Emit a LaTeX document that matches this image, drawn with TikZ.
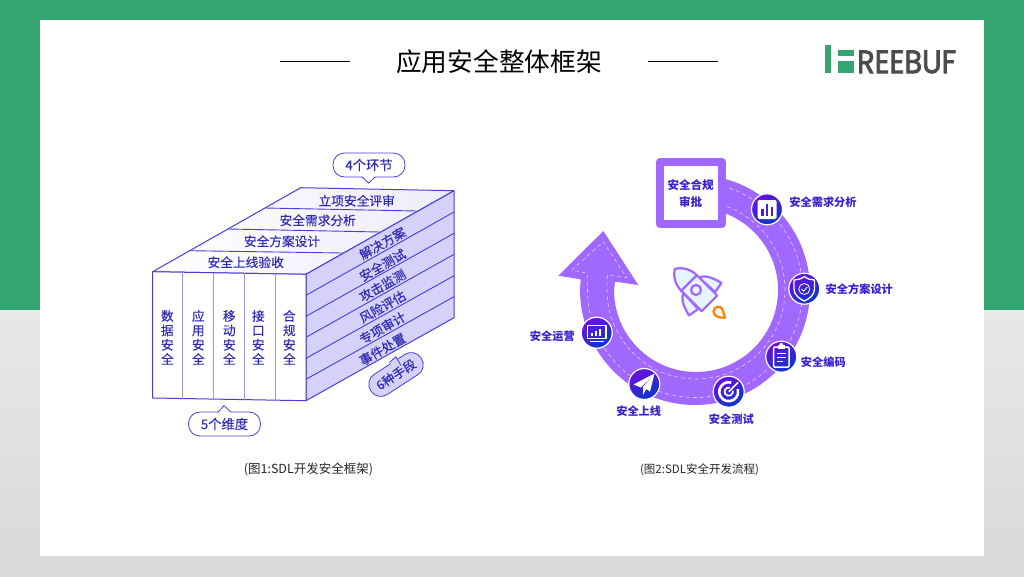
\documentclass[tikz,border=0pt]{standalone}
\usepackage{fontspec}
\usepackage{graphicx}
\setmainfont{Noto Sans CJK SC}
\newfontfamily\logofont[FakeBold=2.5]{Poppins}
\newfontfamily\boxfont[FakeBold=0.2]{Noto Sans CJK SC}
\usetikzlibrary{calc}
\definecolor{grn}{HTML}{34A56F}
\definecolor{boxline}{HTML}{4A3DD6}
\definecolor{boxtext}{HTML}{2F2CB4}
\definecolor{sidefill}{HTML}{D6D1F9}
\definecolor{purp}{HTML}{A068FF}
\definecolor{lab}{HTML}{3A1FD0}
\definecolor{nosefill}{HTML}{E6F4FD}
\definecolor{icopurple}{HTML}{6A10E0}
\definecolor{icoblue}{HTML}{0A38C8}
\tikzset{
  boxface/.style={draw=boxline,line width=1pt,line join=round},
  boxdiv/.style={draw=boxline!55,line width=1.1pt},
  sideline/.style={draw=boxline,line width=0.9pt},
  toptext/.style={font=\boxfont\fontsize{12.7}{14}\selectfont,text=boxtext,inner sep=0pt},
  sidetext/.style={font=\boxfont\fontsize{12.7}{14}\selectfont,text=boxtext,inner sep=0pt,rotate=29.5},
  fronttext/.style={font=\boxfont\fontsize{12.7}{14.4}\selectfont,text=boxtext,inner sep=0pt,align=center},
  bubble/.style={draw=boxline,line width=0.8pt,rounded corners=11.5pt,minimum width=72pt,minimum height=24pt,inner sep=0pt,font=\boxfont\fontsize{13.3}{14}\selectfont,text=boxtext},
  ico/.style={circle,minimum size=31pt,inner sep=0pt,draw=white,line width=1.2pt,top color=icopurple,bottom color=icoblue,shading angle=30},
  steplabel/.style={font=\fontsize{11.2}{13}\selectfont\bfseries,text=lab,inner sep=0pt},
  dashline/.style={draw=white,draw opacity=.65,line width=0.6pt,dash pattern=on 4pt off 3pt},
  icoline/.style={draw=white,line width=1.1pt,line join=round},
  rocket/.style={draw=purp,line width=2.2pt,fill=nosefill,line join=round},
  caption/.style={inner sep=0pt,text=black!85}
}
\begin{document}
\begin{tikzpicture}[x=1pt,y=1pt]
\useasboundingbox (0,-576) rectangle (1024,0);
% background
\fill[grn] (0,0) rectangle (1024,-310);
\shade[top color=black!9,bottom color=black!15] (0,-310) rectangle (1024,-576);
\fill[white] (40,-20) rectangle (984,-556);
% title
\node[inner sep=0pt,font=\fontsize{25.7}{28}\selectfont] (title) at (499,-62) {应用安全整体框架};
\coordinate (tl1) at (280,-61); \coordinate (tl2) at (350,-61);
\coordinate (tr1) at (648,-61); \coordinate (tr2) at (718,-61);
\draw[line width=0.8pt] (tl1) -- (tl2);
\draw[line width=0.8pt] (tr1) -- (tr2);
% logo
\fill[grn] (825.3,-45) rectangle (830.7,-73);
\fill[grn] (838,-50) rectangle (854,-55.7);
\fill[grn] (838,-61) rectangle (854,-73.3);
\node[inner sep=0pt,anchor=west,text=black!70] (logo) at (857,-62) {\resizebox{99pt}{22.6pt}{\logofont REEBUF}};
% box faces
\coordinate (ftl) at (152.7,-271.7); \coordinate (ftr) at (306,-274.3);
\coordinate (fbl) at (152.7,-398); \coordinate (fbr) at (306,-400.7);
\coordinate (btl) at (300.7,-187.7); \coordinate (btr) at (454,-190.7);
\coordinate (bbr) at (454,-317.7);
\path[boxface,left color=white,right color=boxline!10] (ftl) -- (btl) -- (btr) -- (ftr) -- cycle;
\path[boxface,fill=sidefill] (ftr) -- (btr) -- (bbr) -- (fbr) -- cycle;
\path[boxface,fill=white] (ftl) -- (ftr) -- (fbr) -- (fbl) -- cycle;
% top rows
\draw[sideline] (265,-208) -- (416.7,-211);
\draw[sideline] (228,-229) -- (380,-232);
\draw[sideline] (190,-250.7) -- (343,-253);
% side rows
\draw[sideline] (306,-295.3) -- (454,-212);
\draw[sideline] (306,-316.3) -- (454,-233.3);
\draw[sideline] (306,-337.3) -- (454,-254.3);
\draw[sideline] (306,-358.3) -- (454,-275.7);
\draw[sideline] (306,-379.3) -- (454,-296.7);
% front dividers
\draw[boxdiv] (182.7,-272.3) -- (182.7,-398.5);
\draw[boxdiv] (213.3,-272.8) -- (213.3,-399);
\draw[boxdiv] (244.7,-273.3) -- (244.7,-399.6);
\draw[boxdiv] (275.3,-273.8) -- (275.3,-400.1);
% box texts
\node[toptext] (t1) at (356.7,-200.7) {立项安全评审};
\node[toptext] (t2) at (317.7,-220.3) {安全需求分析};
\node[toptext] (t3) at (282,-241.3) {安全方案设计};
\node[toptext] (t4) at (245.7,-262.3) {安全上线验收};
\node[sidetext] (s1) at (382.5,-243.3) {解决方案};
\node[sidetext] (s2) at (382.5,-265) {安全测试};
\node[sidetext] (s3) at (382.5,-285.5) {攻击监测};
\node[sidetext] (s4) at (382.5,-306.7) {风险评估};
\node[sidetext] (s5) at (382.5,-328) {专项审计};
\node[sidetext] (s6) at (382.5,-349.3) {事件处置};
\node[fronttext] (f1) at (167.3,-337.4) {数\\据\\安\\全};
\node[fronttext] (f2) at (198.3,-337.4) {应\\用\\安\\全};
\node[fronttext] (f3) at (229.3,-337.4) {移\\动\\安\\全};
\node[fronttext] (f4) at (258.3,-337.4) {接\\口\\安\\全};
\node[fronttext] (f5) at (289.3,-337.4) {合\\规\\安\\全};
% bubbles
\node[bubble,fill=white] (b4) at (369,-165) {4个环节};
\fill[white] (362,-176.2) -- (368.7,-183) -- (375,-176.2) -- cycle;
\draw[boxline,line width=0.8pt] (362,-177) -- (368.7,-183) -- (375,-177);
\node[bubble,fill=white] (b5) at (224.5,-424) {5个维度};
\fill[white] (218,-412.8) -- (224,-405.7) -- (231,-412.8) -- cycle;
\draw[boxline,line width=0.8pt] (218,-412) -- (224,-405.7) -- (231,-412);
\node[bubble,fill=sidefill,minimum width=60pt,rotate=33,font=\boxfont\fontsize{12.5}{14}\selectfont] (b6) at (396,-374.5) {6种手段};
\fill[sidefill] (389,-363) -- (395.7,-356.7) -- (403,-368) -- cycle;
\draw[boxline,line width=0.8pt] (389.5,-362.5) -- (395.7,-356.7) -- (401,-365.5);
% ring with arrow
\fill[purp] (695,-175) arc[start angle=90,end angle=-180,radius=115]
  -- (580.7,-279.3) -- (558.3,-275.7) -- (603.3,-231) -- (638.3,-285) -- (615,-281.7) -- (614,-290)
  arc[start angle=-180,end angle=90,radius=82] -- cycle;
\draw[dashline] (695,-182.5) arc[start angle=90,end angle=-180,radius=107.5]
  -- (587.3,-273.3) -- (571.7,-270) -- (603.3,-241.7) -- (626.7,-277.7) -- (607.3,-275) -- (607,-290)
  arc[start angle=-180,end angle=90,radius=89];
% square
\draw[fill=white,draw=purp,line width=8pt,line join=round] (660,-162) rectangle (722,-224);
\node[inner sep=0pt,align=center,font=\fontsize{11.5}{16.7}\selectfont\bfseries,text=lab] (sq) at (690.7,-193.3) {安全合规\\审批};
% rocket
\begin{scope}[shift={(696,-290)},rotate=45]
  \path[rocket] (11,6) .. controls (17,6) and (21,-5) .. (23,-13) -- (12,-15) -- cycle;
  \path[rocket] (-11,6) .. controls (-17,6) and (-21,-5) .. (-23,-13) -- (-12,-15) -- cycle;
  \path[rocket] (-11,10) -- (-11,-19) -- (11,-19) -- (11,10) -- cycle;
  \path[rocket] (-11,10) .. controls (-11,20) and (-5,27) .. (0,30) .. controls (5,27) and (11,20) .. (11,10) -- cycle;
  \draw[purp,line width=2.2pt] (0,0) circle (5pt);
\end{scope}
\path[draw=orange,line width=2.2pt,fill=orange!8,line join=round] (725,-317.7) .. controls (718,-318.5) and (713,-315) .. (713.5,-311) .. controls (714,-306.5) and (720.5,-305) .. (722.3,-309) .. controls (723.5,-312) and (724,-315) .. (725,-317.7) -- cycle;
% step icons
\node[ico] (c1) at (767,-209.3) {};
\node[ico] (c2) at (804.3,-288.7) {};
\node[ico] (c3) at (781.3,-356.7) {};
\node[ico] (c4) at (728.7,-391.7) {};
\node[ico] (c5) at (644.3,-384) {};
\node[ico] (c6) at (596.7,-332.7) {};
% bar chart
\fill[white,rounded corners=1.5pt] (757.5,-200) rectangle (776.5,-219);
\fill[icopurple!60!icoblue] (761,-209) rectangle (763.5,-216);
\fill[icopurple!60!icoblue] (765.7,-204) rectangle (768.3,-216);
\fill[icopurple!60!icoblue] (770.5,-207) rectangle (773,-216);
% shield
\draw[icoline,line width=1.3pt] (804.3,-276.5) .. controls (808,-279.5) and (811,-279.5) .. (814.5,-280) -- (814.5,-289) .. controls (814.5,-295) and (809,-299) .. (804.3,-301) .. controls (799.6,-299) and (794,-295) .. (794,-289) -- (794,-280) .. controls (797.5,-279.5) and (800.6,-279.5) .. (804.3,-276.5) -- cycle;
\draw[icoline,line width=.8pt] (804.3,-289) circle (5.5pt);
\draw[icoline,line width=.8pt] (801.5,-289) -- (803.7,-291.2) -- (807.2,-287);
% clipboard
\draw[icoline,line width=1.5pt,rounded corners=1pt] (773.5,-347) rectangle (789,-367);
\fill[white] (777.5,-345) rectangle (785,-349);
\fill[white] (781.3,-345) circle (2pt);
\draw[icoline,line width=1.3pt] (776.5,-353.5) -- (786,-353.5);
\draw[icoline,line width=1.3pt] (776.5,-357.5) -- (786,-357.5);
\draw[icoline,line width=1.3pt] (776.5,-361.5) -- (783,-361.5);
% target
\draw[icoline,line width=2.6pt] (731.2,-382.5) arc[start angle=75,end angle=375,radius=9.5];
\draw[icoline,line width=1.7pt] (729.8,-387.6) arc[start angle=75,end angle=375,radius=4.2];
\draw[icoline,line width=1.6pt] (728.7,-391.7) -- (738,-382.4);
% plane
\fill[white] (654.5,-373.5) -- (633.5,-384.5) -- (641,-387.5) -- cycle;
\fill[white] (654.5,-373.5) -- (643,-387) -- (650,-391.5) -- cycle;
\fill[white] (654.5,-373.5) -- (643,-387) -- (643,-395) -- (646,-389.5) -- cycle;
% monitor
\draw[icoline,line width=1.3pt] (587.5,-325.5) rectangle (606,-338.5);
\fill[white] (590.5,-332.5) rectangle (592.5,-335.5);
\fill[white] (594.5,-331) rectangle (596.5,-335.5);
\fill[white] (598.5,-329) rectangle (600.5,-335.5);
\draw[icoline,line width=1.3pt] (590,-341.5) -- (603.5,-341.5);
% step labels
\node[steplabel] (l1) at (823,-202.7) {安全需求分析};
\node[steplabel] (l2) at (859.3,-289.3) {安全方案设计};
\node[steplabel] (l3) at (823.3,-362.3) {安全编码};
\node[steplabel] (l4) at (731.3,-419.3) {安全测试};
\node[steplabel] (l5) at (638.7,-411.7) {安全上线};
\node[steplabel] (l6) at (552.3,-336) {安全运营};
% captions
\node[caption,font=\fontsize{12.5}{14}\selectfont] (cap1) at (308.5,-469.5) {(图1:SDL开发安全框架)};
\node[caption,font=\fontsize{11.5}{14}\selectfont] (cap2) at (699.5,-470) {(图2:SDL安全开发流程)};
\end{tikzpicture}
\end{document}
